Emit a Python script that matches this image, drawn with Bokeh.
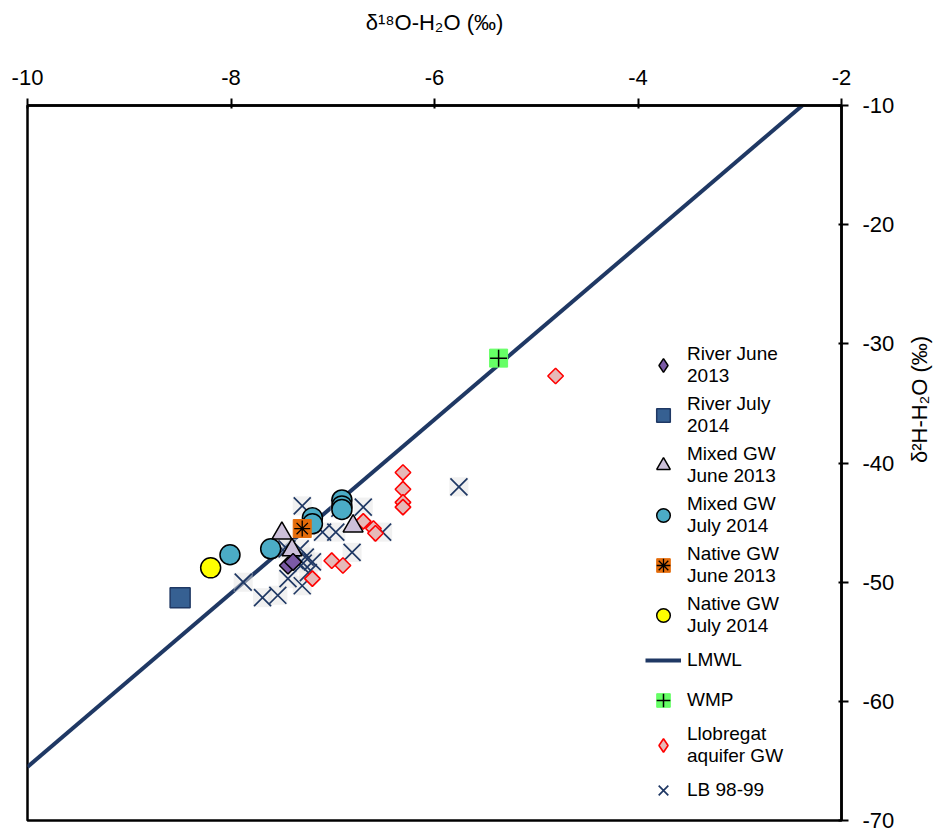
import math
from bokeh.plotting import figure
from bokeh.models import (LinearAxis, FixedTicker, Legend, LegendItem)
from bokeh.embed import file_html
from bokeh.resources import INLINE

# --- isotope data (δ18O, δ2H in ‰) ---
river_jun13_o = [-7.44, -7.39]
river_jun13_h = [-48.6, -48.3]

river_jul14_o = [-8.50]
river_jul14_h = [-51.3]

mixed_jun13_o = [-7.50, -7.40, -6.80]
mixed_jun13_h = [-45.9, -47.3, -45.3]

mixed_jul14_o = [-8.01, -7.61, -7.20, -7.20, -6.91, -6.91, -6.91]
mixed_jul14_h = [-47.7, -47.2, -44.6, -45.1, -43.1, -43.6, -43.9]

native_jun13_o = [-7.30]
native_jun13_h = [-45.5]

native_jul14_o = [-8.20]
native_jul14_h = [-48.8]

wmp_o = [-5.37]
wmp_h = [-31.2]

llob_o = [-6.31, -6.31, -6.31, -6.31, -6.70, -6.60, -6.58, -7.01, -6.90, -7.20, -4.81]
llob_h = [-40.8, -42.2, -43.3, -43.7, -44.9, -45.5, -45.9, -48.2, -48.6, -49.7, -32.7]

lb_o = [-7.30, -6.70, -6.93, -7.10, -6.97, -6.51, -6.81, -7.45, -7.32, -7.27,
        -7.37, -7.29, -7.20, -7.24, -7.44, -7.30, -7.88, -7.69, -7.54, -5.76, -7.49]
lb_h = [-43.6, -43.7, -43.8, -45.8, -45.8, -45.8, -47.5, -47.2, -47.2, -47.9,
        -48.2, -48.4, -48.3, -49.2, -49.7, -50.3, -50.0, -51.3, -51.1, -42.0, -47.3]

# local meteoric water line end points
lmwl_o = [-10.0, -2.385]
lmwl_h = [-65.5, -10.0]

x_ticks = [-10, -8, -6, -4, -2]
y_ticks = [-70, -60, -50, -40, -30, -20, -10]

FONT = "Liberation Sans"

p = figure(width=947, height=835, x_range=(-10, -2), y_range=(-70, -10),
           x_axis_location=None, y_axis_location=None,
           toolbar_location=None, output_backend="svg",
           min_border_left=27, min_border_right=105,
           min_border_top=105, min_border_bottom=15)
p.grid.visible = False
p.outline_line_color = "black"
p.outline_line_width = 2.5
p.background_fill_color = "white"
p.border_fill_color = "white"

top = LinearAxis(ticker=FixedTicker(ticks=x_ticks),
                 axis_label="δ¹⁸O-H₂O (‰)")
right = LinearAxis(ticker=FixedTicker(ticks=y_ticks),
                   axis_label="δ²H-H₂O (‰)")
top.major_label_overrides = {t: str(t) for t in x_ticks}
right.major_label_overrides = {t: str(t) for t in y_ticks}
for ax in (top, right):
    ax.axis_line_color = "black"
    ax.axis_line_width = 2.5
    ax.major_tick_line_color = "black"
    ax.major_tick_line_width = 2
    ax.minor_tick_line_color = None
    ax.major_tick_out = 7
    ax.major_tick_in = 3
    ax.major_label_text_font = FONT
    ax.major_label_text_font_size = "22px"
    ax.major_label_text_color = "black"
    ax.axis_label_text_font = FONT
    ax.axis_label_text_font_size = "22px"
    ax.axis_label_text_font_style = "normal"
    ax.axis_label_text_color = "black"
top.major_label_standoff = 14
top.axis_label_standoff = 32
right.major_label_standoff = 14
right.axis_label_standoff = 22
right.major_label_text_align = "left"
try:
    right.axis_label_orientation = math.pi / 2
except Exception:
    pass
p.add_layout(top, "above")
p.add_layout(right, "right")

# LMWL
r_lmwl = p.line(lmwl_o, lmwl_h, line_color="#1f3864", line_width=4)

# LB 98-99 (crosses on pale tiles)
p.scatter(lb_o, lb_h, marker="square", size=19, fill_color="#e4e4e4",
          fill_alpha=0.5, line_color=None)
r_lb = p.scatter(lb_o, lb_h, marker="x", size=24, line_color="#1f3864",
                 line_width=1.7)

# Llobregat aquifer GW
p.scatter(llob_o, llob_h, marker="square", angle=math.pi / 4, size=11,
          fill_color="#e6b9b8", line_color="#ff0000", line_width=1.6)

# Mixed GW June 2013
r_mix13 = p.scatter(mixed_jun13_o, mixed_jun13_h, marker="triangle", size=20,
                    fill_color="#ccc0da", line_color="black", line_width=1.5)

# River June 2013
p.scatter(river_jun13_o, river_jun13_h, marker="square",
          angle=math.pi / 4, size=12, fill_color="#7b5aa6",
          line_color="black", line_width=1.5)

# Mixed GW July 2014
r_mix14 = p.scatter(mixed_jul14_o, mixed_jul14_h, marker="circle", size=20,
                    fill_color="#4bacc6", line_color="black", line_width=1.5)

# Native GW June 2013
r_nat13a = p.scatter(native_jun13_o, native_jun13_h, marker="square", size=18,
                     fill_color="#e46c0a", line_color="#e46c0a")
r_nat13b = p.scatter(native_jun13_o, native_jun13_h, marker="asterisk", size=16,
                     line_color="black", line_width=1.3)

# Native GW July 2014
r_nat14 = p.scatter(native_jul14_o, native_jul14_h, marker="circle", size=20,
                    fill_color="#ffff00", line_color="black", line_width=1.5)

# River July 2014
r_riv14 = p.scatter(river_jul14_o, river_jul14_h, marker="square", size=20,
                    fill_color="#366092", line_color="#1f3864", line_width=1.5)

# WMP
r_wmpa = p.scatter(wmp_o, wmp_h, marker="square", size=18,
                   fill_color="#66ff66", line_color="#66ff66")
r_wmpb = p.scatter(wmp_o, wmp_h, marker="cross", size=17,
                   line_color="black", line_width=1.5)

# diamond keys for the legend only (hidden in the plot area)
k_riv13 = p.scatter(river_jun13_o, river_jun13_h, marker="diamond", size=16,
                    fill_color="#7b5aa6", line_color="black", line_width=1.5,
                    visible=False)
k_llob = p.scatter(llob_o, llob_h, marker="diamond", size=16,
                   fill_color="#e6b9b8", line_color="#ff0000", line_width=1.6,
                   visible=False)

items = [
    LegendItem(label="River June\n2013", renderers=[k_riv13]),
    LegendItem(label="River July\n2014", renderers=[r_riv14]),
    LegendItem(label="Mixed GW\nJune 2013", renderers=[r_mix13]),
    LegendItem(label="Mixed GW\nJuly 2014", renderers=[r_mix14]),
    LegendItem(label="Native GW\nJune 2013", renderers=[r_nat13a, r_nat13b]),
    LegendItem(label="Native GW\nJuly 2014", renderers=[r_nat14]),
    LegendItem(label="LMWL", renderers=[r_lmwl]),
    LegendItem(label="WMP", renderers=[r_wmpa, r_wmpb]),
    LegendItem(label="Llobregat\naquifer GW", renderers=[k_llob]),
    LegendItem(label="LB 98-99", renderers=[r_lb]),
]
legend = Legend(items=items, location=(618, 13))
legend.background_fill_alpha = 0
legend.border_line_color = None
legend.label_text_font = FONT
legend.label_text_font_size = "19px"
legend.label_text_line_height = 1.25
legend.label_text_color = "black"
legend.glyph_width = 36
legend.glyph_height = 34
legend.label_standoff = 6
legend.spacing = 6
legend.padding = 0
legend.margin = 0
p.add_layout(legend, "center")

open("out.html", "w").write(file_html(p, INLINE))
